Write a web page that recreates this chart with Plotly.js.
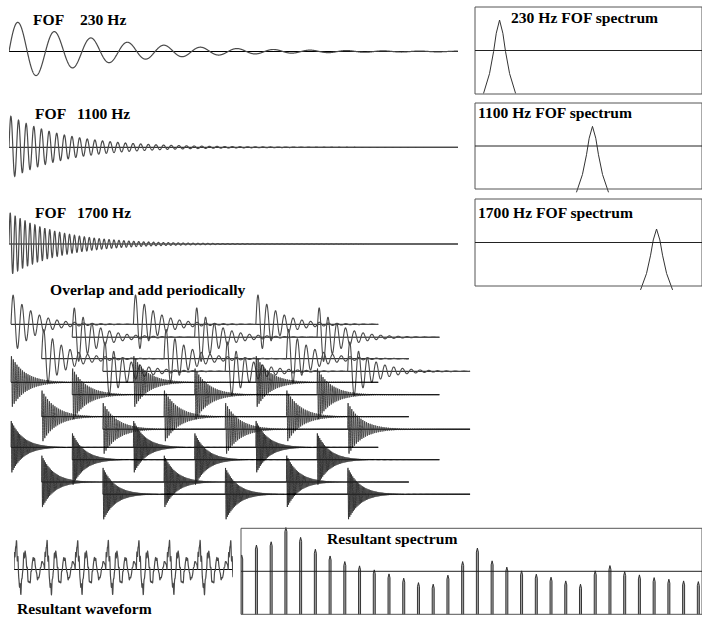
<!DOCTYPE html>
<html><head><meta charset="utf-8">
<script src="https://cdn.plot.ly/plotly-3.0.1.min.js"></script>
<style>html,body{margin:0;padding:0;background:#fff}#chart{width:702px;height:617px}</style>
</head><body><div id="chart"></div>
<script>
// ---------------- data ----------------
const formantLabels = ['230 Hz', '1100 Hz', '1700 Hz'];
const formantHz = [230, 1100, 1700];
const formantBandwidthHz = [28, 46, 53];
const fofAmplitude = [32, 32, 32];        // single-FOF panels
const overlapAmplitude = [32, 27, 27];    // overlap-add rows
const resultantMix = [1, 0.18, 0.12];     // relative weight of each formant in the sum
const resultantPeak = 29;
const fundamentalHz = 66;
const fofsPerRow = 3;
const rowPhases = [0, 1, 2, 3];           // row start, in fundamental periods
const fofSpectrumPeakDb = [-9, -16.3, -20.7];
const fofSpectrumSkirtDb = [50.6, 46, 42];
const peakProfileHz = [-150, -94, -56, -31, 0, 31, 56, 94, 150];
const peakProfileDepth = [1, 0.73, 0.43, 0.18, 0, 0.18, 0.43, 0.73, 1];
const harmonicNumbers = [1,2,3,4,5,6,7,8,9,10,11,12,13,14,15,16,17,18,19,20,21,22,23,24,25,26,27,28,29,30,31,32];
const harmonicDb = [-18.6,-11.7,-9.4,0.5,-6.3,-14.6,-19.3,-23.2,-26.2,-29.0,-31.8,-34.8,-37.9,-39.0,-32.7,-23.2,
                    -13.8,-22.7,-27.1,-29.7,-32.0,-34.1,-36.7,-39.0,-29.7,-26.0,-30.2,-32.5,-34.4,-35.5,-36.7,-37.2];
const titles = {
  fof: 'FOF', overlap: 'Overlap and add periodically',
  resWave: 'Resultant waveform', resSpec: 'Resultant spectrum', specSuffix: ' FOF spectrum'
};

// ---------------- layout geometry (pixels of the 702x617 page) ----------------
const W = 702, H = 617;
const topPanel = {left: 9, right: 458, pxPerMs: 8.4, baselines: [51.5, 147.3, 244]};
const overlapGeom = {originPx: 11, pxPerMs: 2.02,
  baselines: [[324.3, 358.7, 337.2, 371.3], [382.3, 416.7, 394.7, 429.2], [447.3, 482, 459.7, 494.2]]};
const resWaveGeom = {left: 14, right: 233, baseline: 569.5, pxPerMs: 2.02};
const fofBoxGeom = {left: 475, right: 702, tops: [7, 103, 199], bottoms: [94, 189, 286], pxPerHz: 0.1068};
const resBoxGeom = {left: 241, right: 702, top: 528.3, bottom: 614.3, firstHarmonicPx: 241.7, harmonicStepPx: 14.73};
const half = 40;

const WAVE = '#4a4a4a', BASE = '#000', BOX = '#555', FONT = 'Liberation Serif, Times New Roman, serif';

const layout = {width: W, height: H, margin: {l: 0, r: 0, t: 0, b: 0}, paper_bgcolor: '#fff',
  plot_bgcolor: 'rgba(0,0,0,0)', showlegend: false, shapes: [], annotations: [], hovermode: false};
const traces = [];
let xCount = 0, yCount = 0;
function key(p, n) { return p + 'axis' + (n === 1 ? '' : n); }
function addX(l, r, range) {
  xCount++; layout[key('x', xCount)] = {domain: [l / W, r / W], range, visible: false, fixedrange: true};
  return 'x' + (xCount === 1 ? '' : xCount);
}
function addY(top, bottom, range, xr) {
  yCount++; layout[key('y', yCount)] = {domain: [1 - bottom / H, 1 - top / H], range, visible: false, anchor: xr, fixedrange: true};
  const xn = xr === 'x' ? 1 : +xr.slice(1);
  if (!layout[key('x', xn)].anchor) layout[key('x', xn)].anchor = 'y' + (yCount === 1 ? '' : yCount);
  return 'y' + (yCount === 1 ? '' : yCount);
}
function fof(t, i, amp) {
  if (t < 0) return 0;
  return amp * Math.exp(-Math.PI * formantBandwidthHz[i] * t / 1000) * Math.sin(2 * Math.PI * formantHz[i] * t / 1000);
}
function line(xa, ya, xs, ys, color, width) {
  traces.push({type: 'scatter', mode: 'lines', x: xs, y: ys, xaxis: xa, yaxis: ya,
    line: {color, width, simplify: false}, hoverinfo: 'skip'});
}
function label(text, px, py) {
  layout.annotations.push({text: '<b>' + text + '</b>', xref: 'paper', yref: 'paper', x: px / W, y: 1 - py / H,
    xanchor: 'left', yanchor: 'middle', showarrow: false, borderpad: 0, borderwidth: 0,
    font: {family: FONT, size: 15.6, color: '#000'}});
}

// ---- single FOF waveforms ----
const tTopEnd = (topPanel.right - topPanel.left) / topPanel.pxPerMs;
const xTop = addX(topPanel.left, topPanel.right, [0, tTopEnd]);
formantHz.forEach((f, i) => {
  const b = topPanel.baselines[i];
  const ya = addY(b - half, b + half, [-half, half], xTop);
  const xs = [], ys = [];
  for (let t = 0; t <= tTopEnd; t += 0.02) { xs.push(t); ys.push(fof(t, i, fofAmplitude[i])); }
  line(xTop, ya, [0, tTopEnd], [0, 0], BASE, 1);
  line(xTop, ya, xs, ys, WAVE, 1.2);
});

// ---- overlap and add rows ----
const T0 = 1000 / fundamentalHz;
const xOv = addX(0, W, [-overlapGeom.originPx / overlapGeom.pxPerMs, (W - overlapGeom.originPx) / overlapGeom.pxPerMs]);
formantHz.forEach((f, i) => {
  rowPhases.forEach((p, pi) => {
    const b = overlapGeom.baselines[i][pi];
    const ya = addY(b - half, b + half, [-half, half], xOv);
    const spacing = rowPhases.length * T0;
    const t0 = p * T0, t1 = t0 + fofsPerRow * spacing;
    const xs = [], ys = [];
    for (let t = t0; t <= t1; t += 0.02) {
      let v = 0;
      for (let k = 0; k < fofsPerRow; k++) v += fof(t - t0 - k * spacing, i, overlapAmplitude[i]);
      xs.push(t); ys.push(v);
    }
    line(xOv, ya, [t0, t1], [0, 0], BASE, 1);
    line(xOv, ya, xs, ys, i === 0 ? WAVE : '#222', i === 0 ? 1.1 : 0.8);
  });
});

// ---- resultant waveform ----
const tResEnd = (resWaveGeom.right - resWaveGeom.left) / resWaveGeom.pxPerMs;
const xRW = addX(resWaveGeom.left, resWaveGeom.right, [0, tResEnd]);
const yRW = addY(resWaveGeom.baseline - half, resWaveGeom.baseline + half, [-half, half], xRW);
{
  const xs = [], raw = [];
  for (let t = 0; t <= tResEnd; t += 0.02) {
    let v = 0;
    formantHz.forEach((f, i) => { for (let k = -12; k <= 10; k++) v += resultantMix[i] * fof(t - k * T0, i, 1); });
    xs.push(t); raw.push(v);
  }
  const mx = Math.max(...raw);
  line(xRW, yRW, [0, tResEnd], [0, 0], BASE, 1);
  line(xRW, yRW, xs, raw.map(v => v * resultantPeak / mx), WAVE, 1.2);
}

// ---- single FOF spectra ----
const xSp = addX(fofBoxGeom.left, fofBoxGeom.right, [0, (fofBoxGeom.right - fofBoxGeom.left) / fofBoxGeom.pxPerHz]);
formantHz.forEach((f, i) => {
  const top = fofBoxGeom.tops[i], bottom = fofBoxGeom.bottoms[i];
  const k = 60 / (bottom - top);
  const ya = addY(top - 3, bottom + 8, [-60 - 8 * k, 3 * k], xSp);
  line(xSp, ya, peakProfileHz.map(d => f + d), peakProfileDepth.map(d => fofSpectrumPeakDb[i] - d * fofSpectrumSkirtDb[i]), '#333', 1);
  layout.shapes.push({type: 'rect', xref: xSp + ' domain', yref: ya, x0: 0, x1: 1, y0: -60, y1: 0, line: {color: BOX, width: 1}});
  layout.shapes.push({type: 'line', xref: xSp + ' domain', yref: ya, x0: 0, x1: 1, y0: -30, y1: -30, line: {color: '#222', width: 1}});
});

// ---- resultant spectrum ----
{
  const pxPerHz = resBoxGeom.harmonicStepPx / fundamentalHz;
  const fLeft = fundamentalHz - (resBoxGeom.firstHarmonicPx - resBoxGeom.left) / pxPerHz;
  const fRight = fLeft + (resBoxGeom.right - resBoxGeom.left) / pxPerHz;
  const xRS = addX(resBoxGeom.left, resBoxGeom.right, [fLeft, fRight]);
  const k = 60 / (resBoxGeom.bottom - resBoxGeom.top);
  const ya = addY(resBoxGeom.top - 3, resBoxGeom.bottom + 1, [-60 - 1 * k, 3 * k], xRS);
  const hw = 1 / pxPerHz;
  const xs = [], ys = [];
  harmonicNumbers.forEach((n, j) => {
    const f = n * fundamentalHz, L = harmonicDb[j];
    xs.push(f - hw, f - hw, f, f + hw, f + hw, null);
    ys.push(-60, L - 4 * k, L, L - 4 * k, -60, null);
  });
  traces.push({type: 'scatter', mode: 'lines', x: xs, y: ys, xaxis: xRS, yaxis: ya, fill: 'toself',
    fillcolor: '#a8a8a8', line: {color: '#222', width: 0.9}, hoverinfo: 'skip', connectgaps: false});
  layout.shapes.push({type: 'rect', xref: xRS + ' domain', yref: ya, x0: 0, x1: 1, y0: -60, y1: 0, line: {color: BOX, width: 1}});
  layout.shapes.push({type: 'line', xref: xRS + ' domain', yref: ya, x0: 0, x1: 1, y0: -30, y1: -30, line: {color: '#222', width: 1}});
}

// ---- text ----
label(titles.fof, 33, 19); label(formantLabels[0], 80, 19);
label(titles.fof, 35, 114); label(formantLabels[1], 77, 114);
label(titles.fof, 35, 212.5); label(formantLabels[2], 77, 212.5);
label(formantLabels[0] + titles.specSuffix, 511, 17.5);
label(formantLabels[1] + titles.specSuffix, 478, 113);
label(formantLabels[2] + titles.specSuffix, 478, 212);
label(titles.overlap, 50, 289);
label(titles.resSpec, 327, 538);
label(titles.resWave, 17, 608);

Plotly.newPlot('chart', traces, layout, {staticPlot: true, displayModeBar: false});
</script></body></html>
